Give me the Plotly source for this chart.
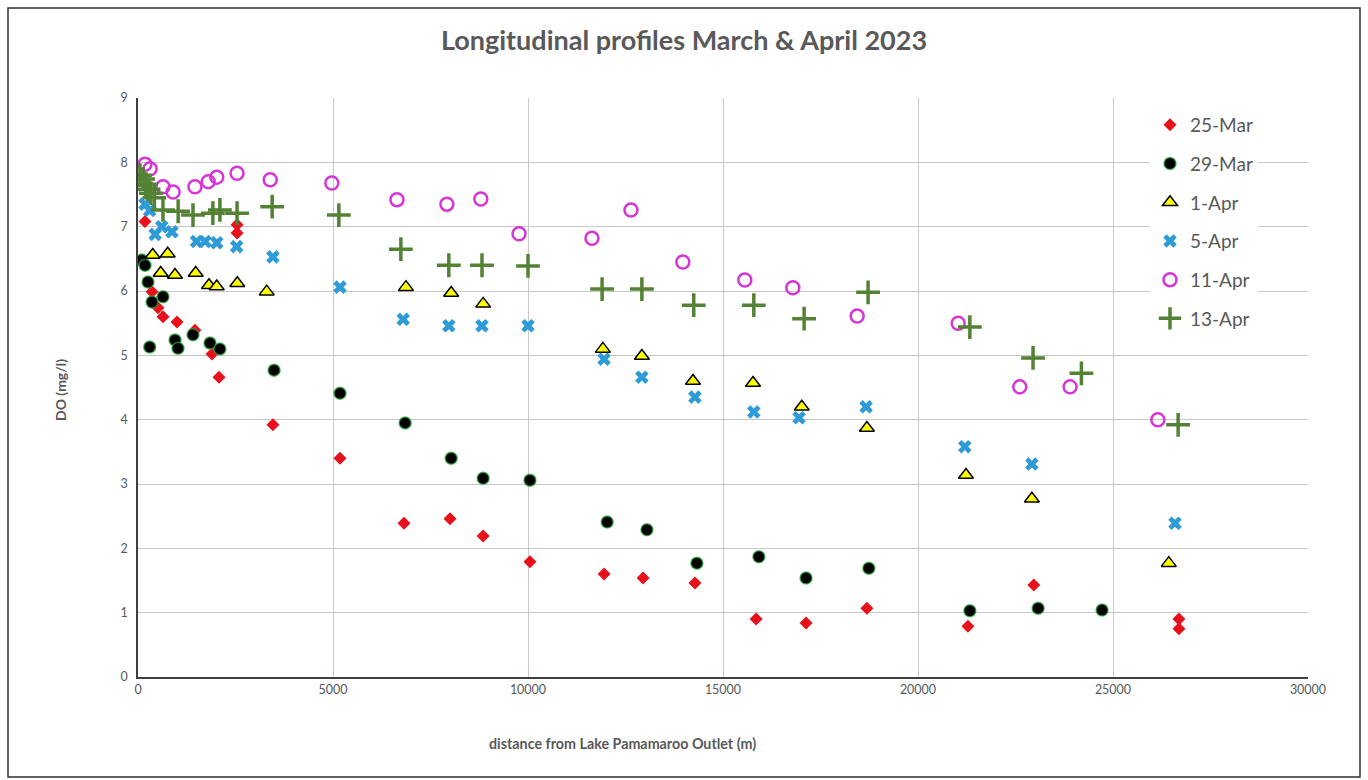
import plotly.graph_objects as go

# ---------------- data ----------------
mar25_x = [180, 2540, 2540, 360, 513, 641, 1000, 1460, 1897, 2077, 3460, 5180, 6820, 8000, 8850, 10050,
           11950, 12950, 14280, 15850, 17130, 18690, 21280, 22970, 26690, 26690]
mar25_y = [7.08, 7.03, 6.90, 5.99, 5.74, 5.60, 5.52, 5.39, 5.02, 4.66, 3.92, 3.40, 2.39, 2.46, 2.19, 1.79,
           1.60, 1.54, 1.46, 0.90, 0.84, 1.07, 0.79, 1.43, 0.90, 0.75]

mar29_x = [100, 180, 256, 360, 641, 300, 950, 1026, 1410, 1846, 2100, 3490, 5180, 6850, 8030, 8850, 10050,
           12030, 13050, 14330, 15920, 17130, 18740, 21330, 23080, 24720]
mar29_y = [6.48, 6.40, 6.14, 5.83, 5.91, 5.13, 5.24, 5.11, 5.32, 5.19, 5.10, 4.77, 4.41, 3.95, 3.40, 3.09, 3.06,
           2.41, 2.29, 1.77, 1.87, 1.54, 1.69, 1.03, 1.07, 1.04]

apr1_x = [377, 761, 582, 949, 1479, 1820, 2018, 2546, 3300, 6870, 8030, 8850, 11920, 12920, 14230, 15770,
          17020, 18690, 21230, 22920, 26430]
apr1_y = [6.56, 6.58, 6.28, 6.25, 6.28, 6.09, 6.07, 6.12, 5.99, 6.06, 5.97, 5.80, 5.10, 4.99, 4.60, 4.57,
          4.20, 3.87, 3.14, 2.77, 1.77]

apr5_x = [180, 300, 440, 610, 870, 1500, 1720, 2020, 2530, 3460, 5180, 6800, 7970, 8820, 10000, 11950, 12920,
          14280, 15790, 16950, 18670, 21200, 22920, 26590]
apr5_y = [7.35, 7.25, 6.88, 7.00, 6.92, 6.77, 6.77, 6.75, 6.69, 6.53, 6.06, 5.56, 5.46, 5.46, 5.46, 4.94, 4.66,
          4.35, 4.12, 4.03, 4.20, 3.58, 3.31, 2.39]

apr11_x = [180, 310, 640, 900, 1460, 1800, 2020, 2540, 3390, 4970, 6640, 7920, 8790, 9770, 11640, 12640,
           13970, 15560, 16790, 18440, 21030, 22610, 23900, 26150]
apr11_y = [7.97, 7.90, 7.62, 7.54, 7.62, 7.70, 7.77, 7.83, 7.73, 7.68, 7.42, 7.35, 7.43, 6.89, 6.82, 7.26,
           6.45, 6.17, 6.05, 5.61, 5.50, 4.51, 4.51, 4.00]

apr13_x = [50, 130, 200, 270, 330, 420, 640, 1030, 1410, 1920, 2100, 2540, 3440, 5150, 6740, 7970, 8820,
           10000, 11900, 12920, 14250, 15790, 17080, 18720, 21330, 22950, 24190, 26670]
apr13_y = [7.80, 7.74, 7.66, 7.58, 7.52, 7.45, 7.26, 7.24, 7.18, 7.21, 7.26, 7.21, 7.31, 7.18, 6.65, 6.40, 6.40,
           6.39, 6.03, 6.03, 5.78, 5.78, 5.57, 5.98, 5.44, 4.96, 4.72, 3.92]

x_ticks = [0, 5000, 10000, 15000, 20000, 25000, 30000]
y_ticks = [0, 1, 2, 3, 4, 5, 6, 7, 8, 9]

TXT = "#595959"
FONT = "Lato"

fig = go.Figure()

def add(name, xs, ys, marker):
    fig.add_trace(go.Scatter(x=xs, y=ys, mode="markers", name=name, legendgroup=name,
                             marker=marker))

add("25-Mar", mar25_x, mar25_y, dict(symbol="diamond", size=10, color="#E8101A", line=dict(width=0)))
add("29-Mar", mar29_x, mar29_y, dict(symbol="circle", size=12, color="#000000",
                                      line=dict(width=1.5, color="rgba(40,170,60,0.7)")))
add("1-Apr", apr1_x, apr1_y, dict(symbol="triangle-up", size=13, color="#FFFF00",
                                   line=dict(width=1.5, color="#000000")))
add("5-Apr", apr5_x, apr5_y, dict(symbol="x", size=12, color="#2E9BD6", line=dict(width=0)))
add("11-Apr", apr11_x, apr11_y, dict(symbol="circle-open", size=13, color="#D636D6",
                                     line=dict(width=2.5, color="#D636D6")))
add("13-Apr", apr13_x, apr13_y, dict(symbol="cross-thin", size=17, color="#548235",
                                     line=dict(width=3.5, color="#548235")))

fig.update_layout(
    width=1368, height=780,
    margin=dict(l=138, r=60, t=98, b=103),
    paper_bgcolor="white", plot_bgcolor="white",
    font=dict(family=FONT, color=TXT),
    title=dict(text="<b>Longitudinal profiles March & April 2023</b>",
               x=0.5, xanchor="center", y=1 - 41 / 780, yanchor="middle",
               font=dict(size=27, color=TXT, family=FONT)),
    showlegend=True,
    legend=dict(x=(1150 - 138) / 1170, xanchor="left", y=(677 - 106) / 579, yanchor="top",
                bgcolor="white", font=dict(size=19, color=TXT, family=FONT),
                tracegroupgap=11, traceorder="grouped", itemwidth=30),
    xaxis=dict(range=[0, 30000], tickvals=x_ticks, ticktext=[str(v) for v in x_ticks],
               showgrid=True, gridcolor="#C8C8C8", gridwidth=1,
               showline=True, linecolor="#404040", linewidth=1.5,
               zeroline=False, ticks="", tickfont=dict(size=12.5, color=TXT), ticklen=0),
    yaxis=dict(range=[0, 9], tickvals=y_ticks, showgrid=True, gridcolor="#C8C8C8", gridwidth=1,
               showline=True, linecolor="#404040", linewidth=1.5,
               zeroline=False, ticks="outside", ticklen=6, tickcolor="white",
               tickfont=dict(size=12.5, color=TXT)),
    annotations=[
        dict(text="<b>distance from Lake Pamamaroo Outlet (m)</b>", xref="paper", yref="paper",
             x=(622 - 138) / 1170, y=(677 - 743) / 579, xanchor="center", yanchor="middle",
             showarrow=False, font=dict(size=14.3, color=TXT, family=FONT)),
        dict(text="<b>DO (mg/l)</b>", xref="paper", yref="paper",
             x=(60 - 138) / 1170, y=(677 - 390) / 579, xanchor="center", yanchor="middle",
             textangle=-90, showarrow=False, font=dict(size=14, color=TXT, family=FONT)),
    ],
    shapes=[
        dict(type="rect", xref="paper", yref="paper",
             x0=(8 - 138) / 1170, x1=(1360 - 138) / 1170,
             y0=(677 - 777) / 579, y1=(677 - 8) / 579,
             line=dict(color="#303030", width=1.5), fillcolor="rgba(0,0,0,0)", layer="below"),
    ],
)

fig.write_html("out.html")
